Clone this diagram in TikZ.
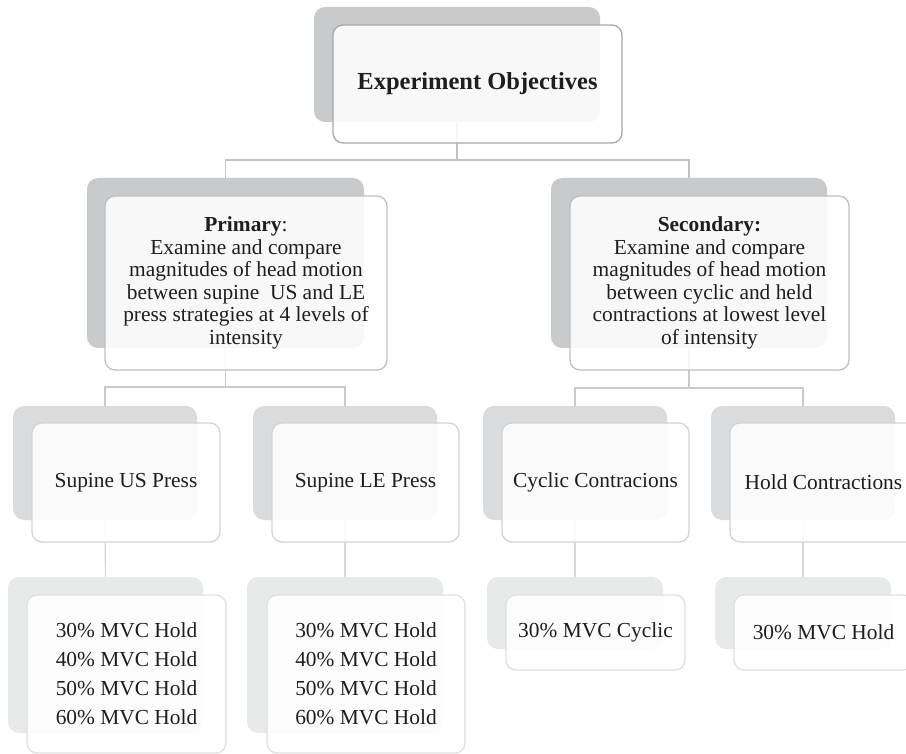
\documentclass[tikz,border=0pt]{standalone}
\usepackage{fontspec}
\setmainfont{Liberation Serif}
\usetikzlibrary{backgrounds}
\definecolor{cShA}{HTML}{C9CACC}
\definecolor{cShB}{HTML}{DADBDD}
\definecolor{cShC}{HTML}{E8E9E9}
\definecolor{cBdA}{HTML}{A8A8A8}
\definecolor{cBdB}{HTML}{BFBFBF}
\definecolor{cBdC}{HTML}{D3D3D3}
\definecolor{cBdD}{HTML}{E0E0E0}
\definecolor{cLnA}{HTML}{C2C2C2}
\definecolor{cLnB}{HTML}{CACACA}
\definecolor{cLnC}{HTML}{D8D8D8}
\definecolor{cTxt}{HTML}{1E1E1E}
\begin{document}
\begin{tikzpicture}[x=1pt,y=-1pt,
  shbox/.style={rounded corners=11pt, inner sep=0pt, outer sep=0pt},
  shA/.style={shbox, fill=cShA},
  shB/.style={shbox, fill=cShB},
  shC/.style={shbox, fill=cShC},
  frontbox/.style={fill=white, fill opacity=0.88, text opacity=1, draw opacity=1,
    rounded corners=10pt, line width=1.3pt, inner sep=0pt, outer sep=0pt,
    text=cTxt, align=center, font=\fontsize{21.4}{22.5}\selectfont},
  frA/.style={frontbox, draw=cBdA},
  frB/.style={frontbox, draw=cBdB},
  frC/.style={frontbox, draw=cBdC},
  frD/.style={frontbox, draw=cBdD},
  conn/.style={line width=1.3pt}
]
\useasboundingbox (0,0) rectangle (906,754);

% level 1
\node[shA, minimum width=286pt, minimum height=115pt] (s0) at (457,64.5) {};
\node[frA, minimum width=289pt, minimum height=118pt] (f0) at (477.5,84)
  {\fontsize{24.5}{28}\selectfont\bfseries Experiment Objectives};

% level 2
\node[shA, minimum width=277pt, minimum height=170pt] (sP) at (225.5,263) {};
\node[frB, minimum width=282pt, minimum height=174pt] (fP) at (246,283)
  {\textbf{Primary}:\\Examine and compare\\magnitudes of head motion\\between supine\ \ US and LE\\press strategies at 4 levels of\\intensity};
\node[shA, minimum width=276pt, minimum height=170pt] (sS) at (689,263) {};
\node[frB, minimum width=279pt, minimum height=174pt] (fS) at (709.5,283)
  {\textbf{Secondary:}\\Examine and compare\\magnitudes of head motion\\between cyclic and held\\contractions at lowest level\\of intensity};

% level 3
\node[shB, minimum width=184pt, minimum height=114pt] (s3a) at (105,463) {};
\node[frC, minimum width=188pt, minimum height=119pt] (f3a) at (126,482.5) {Supine US Press};
\node[shB, minimum width=184pt, minimum height=114pt] (s3b) at (345,463) {};
\node[frC, minimum width=187pt, minimum height=119pt] (f3b) at (365.5,482.5) {Supine LE Press};
\node[shB, minimum width=184pt, minimum height=114pt] (s3c) at (575,463) {};
\node[frC, minimum width=187pt, minimum height=119pt] (f3c) at (595.5,482.5) {Cyclic Contracions};
\node[shB, minimum width=184pt, minimum height=114pt] (s3d) at (803,463) {};
\node[frC, minimum width=187pt, minimum height=119pt] (f3d) at (823.5,482.5) {Hold Contractions};

% level 4
\node[shC, minimum width=195pt, minimum height=156pt] (s4a) at (105.5,655) {};
\node[frD, minimum width=199pt, minimum height=158pt, font=\fontsize{21.4}{29}\selectfont] (f4a) at (126.5,674)
  {30\% MVC Hold\\40\% MVC Hold\\50\% MVC Hold\\60\% MVC Hold};
\node[shC, minimum width=196pt, minimum height=156pt] (s4b) at (345,655) {};
\node[frD, minimum width=198pt, minimum height=158pt, font=\fontsize{21.4}{29}\selectfont] (f4b) at (366,674)
  {30\% MVC Hold\\40\% MVC Hold\\50\% MVC Hold\\60\% MVC Hold};
\node[shC, minimum width=176pt, minimum height=72pt] (s4c) at (575,613) {};
\node[frD, minimum width=179pt, minimum height=75pt] (f4c) at (595.5,632.5) {30\% MVC Cyclic};
\node[shC, minimum width=176pt, minimum height=72pt] (s4d) at (803,613) {};
\node[frD, minimum width=179pt, minimum height=75pt] (f4d) at (823.5,632.5) {30\% MVC Hold};

% connectors
\begin{scope}[on background layer]
  \draw[conn, cLnA] (s0.south) -- ++(0,38) coordinate (b1);
  \draw[conn, cLnA] (sP.north) |- (b1) -| (sS.north);
  \draw[conn, cLnB] (sP.south) -- ++(0,39) coordinate (b2);
  \draw[conn, cLnB] (s3a.north) |- (b2) -| (s3b.north);
  \draw[conn, cLnB] (sS.south) -- ++(0,40) coordinate (b3);
  \draw[conn, cLnB] (s3c.north) |- (b3) -| (s3d.north);
  \draw[conn, cLnC] (s3a.south) -- (s4a.north);
  \draw[conn, cLnC] (s3b.south) -- (s4b.north);
  \draw[conn, cLnC] (s3c.south) -- (s4c.north);
  \draw[conn, cLnC] (s3d.south) -- (s4d.north);
\end{scope}
\end{tikzpicture}
\end{document}
